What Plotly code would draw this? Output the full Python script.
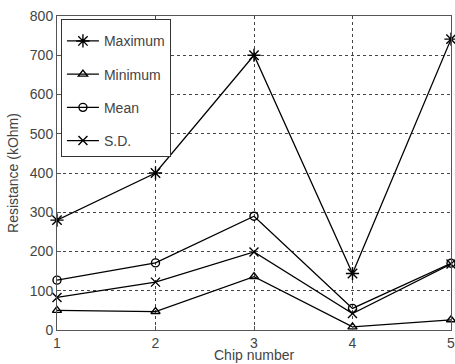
import plotly.graph_objects as go

chips = [1, 2, 3, 4, 5]
maximum = [280, 400, 700, 144, 741]
minimum = [50, 47, 136, 8, 26]
mean = [127, 171, 290, 55, 170]
sd = [83, 122, 199, 42, 168]
x_title = "Chip number"
y_title = "Resistance (kOhm)"

series = [
    ("Maximum", maximum, "asterisk-open", 11),
    ("Minimum", minimum, "triangle-up-open", 8),
    ("Mean", mean, "circle-open", 8),
    ("S.D.", sd, "x-thin-open", 9),
]

FONT = "Liberation Sans, Arial, sans-serif"

fig = go.Figure()
for i, (name, vals, sym, sz) in enumerate(series):
    fig.add_trace(go.Scatter(
        x=chips, y=vals, name=name, mode="lines+markers",
        line=dict(color="black", width=1.3),
        marker=dict(symbol=sym, size=sz, color="black", line=dict(color="black", width=1.4)),
        cliponaxis=False, legendgroup=f"g{i}",
    ))

axis_common = dict(
    showline=True, linecolor="#555", linewidth=1, mirror=True,
    ticks="inside", ticklen=4, tickcolor="#555",
    showgrid=True, gridcolor="#444", gridwidth=1, griddash="3px,3px",
    zeroline=False, ticklabeloverflow="allow",
    tickfont=dict(family=FONT, size=14, color="#444"),
)

fig.update_layout(
    width=455, height=364,
    margin=dict(l=57, r=4, t=16, b=34),
    paper_bgcolor="white", plot_bgcolor="white",
    font=dict(family=FONT, size=14, color="#444"),
    xaxis=dict(range=[1, 5], tickvals=chips, ticktext=[str(c) for c in chips],
               automargin=False, **axis_common),
    yaxis=dict(range=[0, 800], dtick=100,
               title=dict(text=y_title, standoff=7, font=dict(size=14)),
               automargin=False, **axis_common),
    legend=dict(x=0.01, y=0.99, xanchor="left", yanchor="top",
                bgcolor="white", bordercolor="#333", borderwidth=1,
                title=dict(text=" ", font=dict(size=4)),
                font=dict(size=14, color="#444"), tracegroupgap=12,
                itemwidth=32),
    showlegend=True,
)

fig.add_annotation(
    text=x_title, xref="paper", yref="paper", x=0.5, y=0,
    xanchor="center", yanchor="top", yshift=-16, borderpad=0, showarrow=False,
    font=dict(family=FONT, size=14, color="#444"),
)

fig.write_html(
    "out.html",
    config={"displayModeBar": False},
    post_script="document.body.style.margin='0';document.documentElement.style.overflow='hidden';",
)
